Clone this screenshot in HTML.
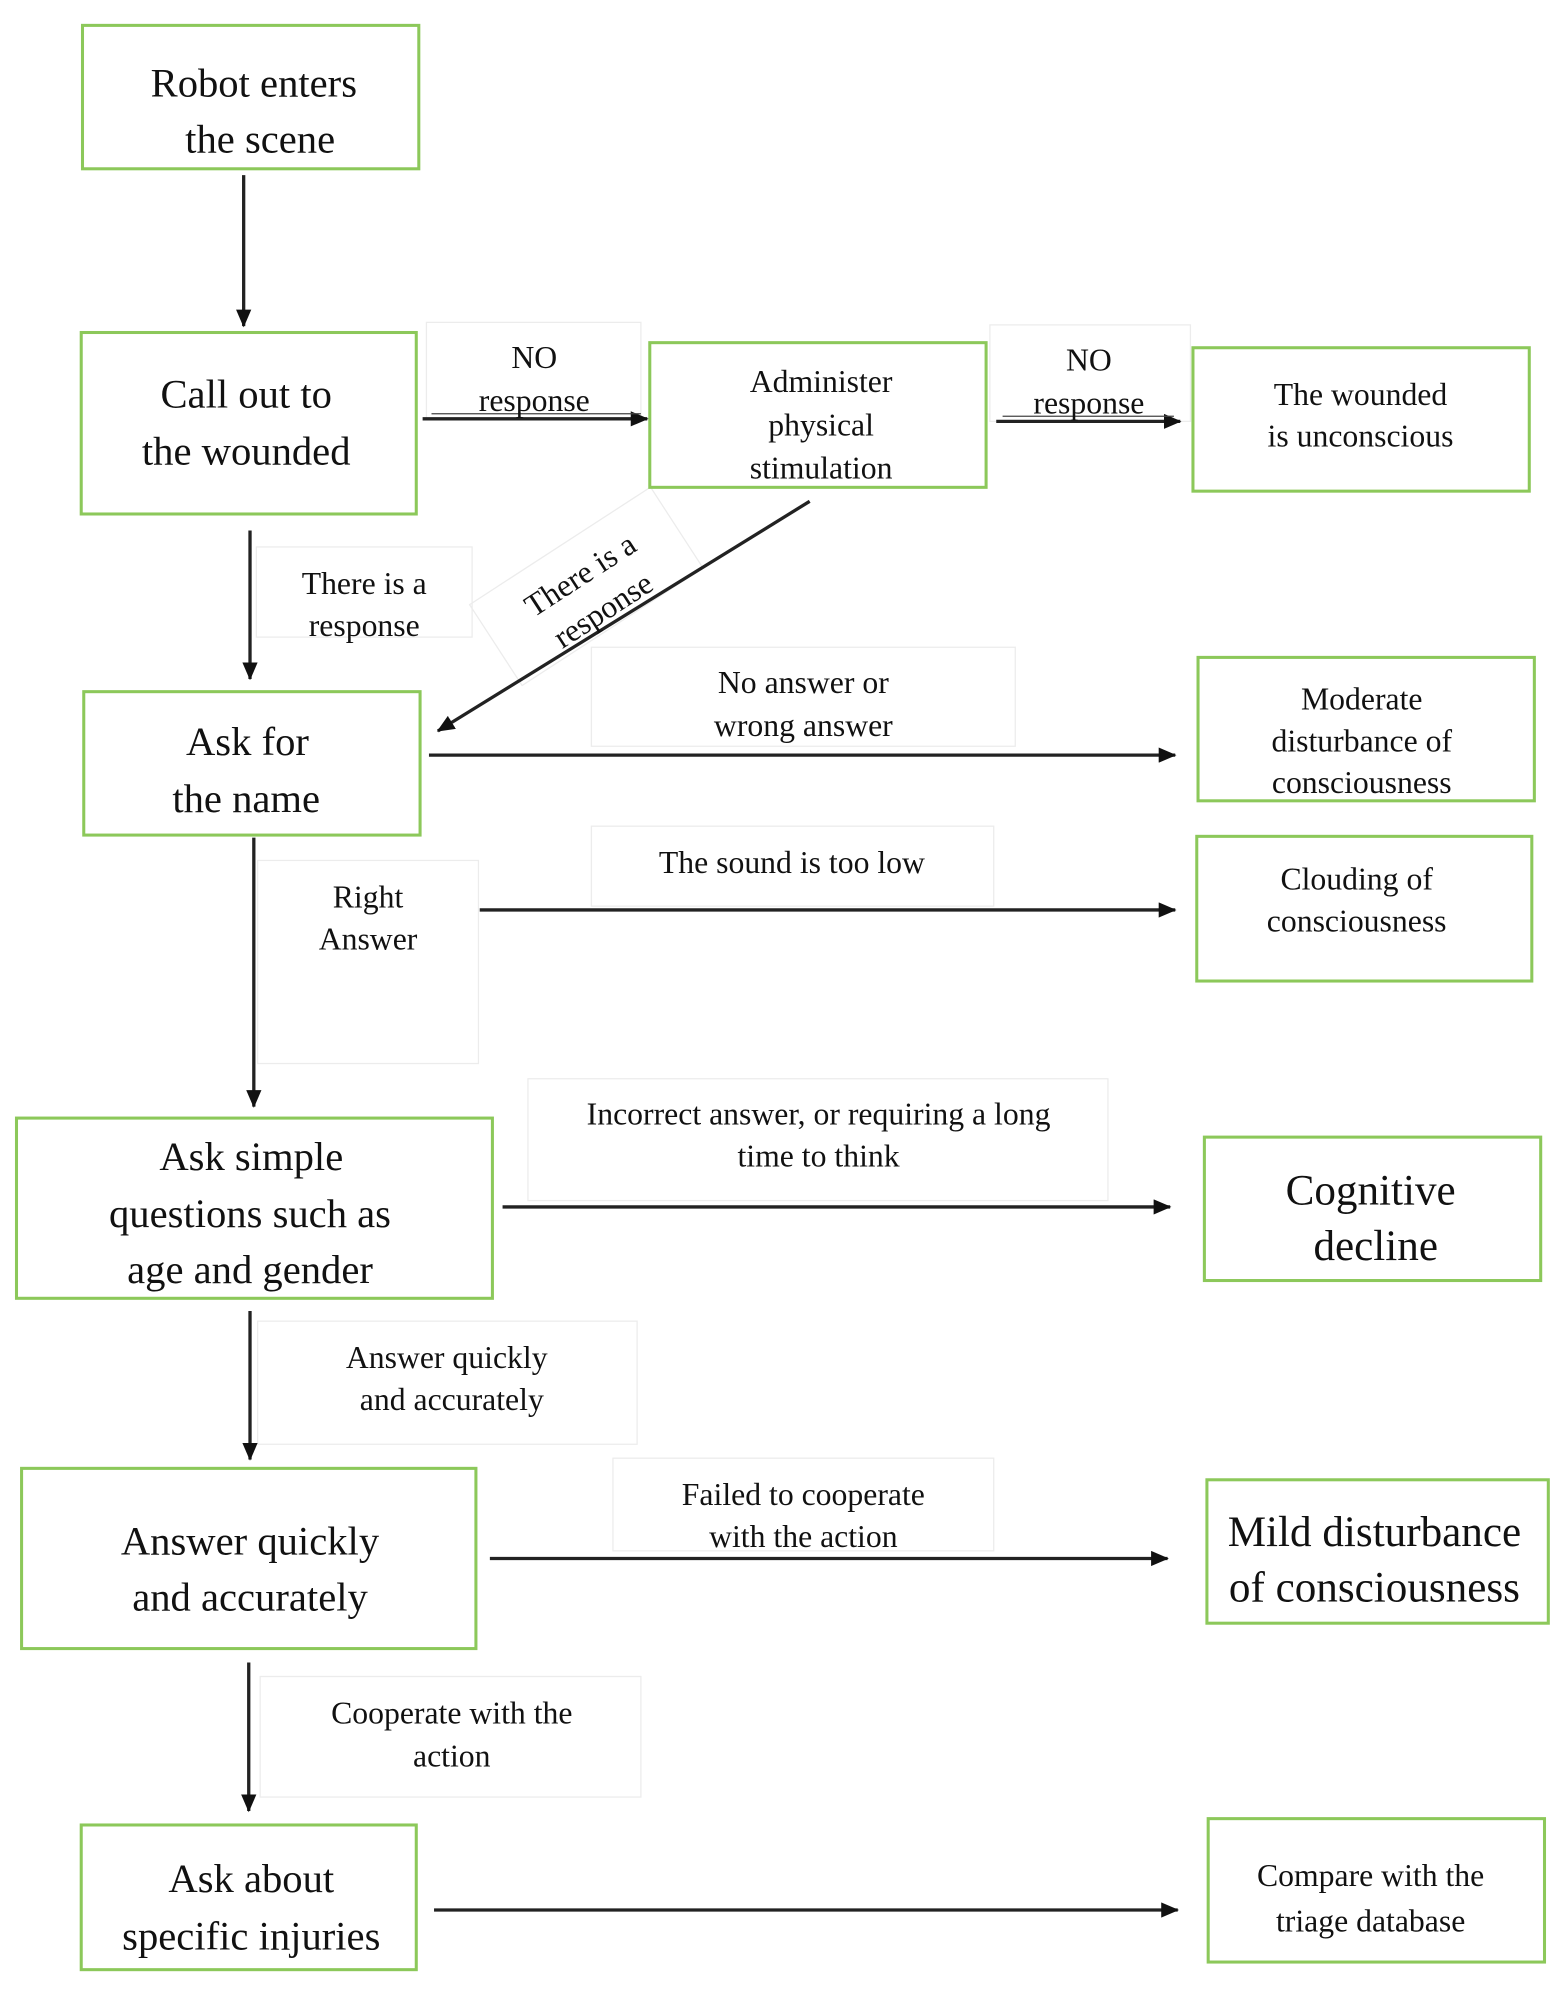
<!DOCTYPE html>
<html><head><meta charset="utf-8"><style>
html,body{margin:0;padding:0;background:#fff;}
svg{display:block;}
text{font-family:"Liberation Serif","Times New Roman","DejaVu Serif",serif;fill:#111;text-anchor:middle;}
.b{fill:#fff;stroke:#8cc85a;stroke-width:2.4;}
.l{fill:none;stroke:#ececec;stroke-width:1;}
.a{stroke:#222;stroke-width:2.6;fill:none;}
</style></head><body>
<svg width="1561" height="1992" viewBox="0 0 1230 1569.6" preserveAspectRatio="none" xmlns="http://www.w3.org/2000/svg" font-family="Liberation Serif, Times New Roman, serif">
<defs><marker id="m" markerWidth="14" markerHeight="12" refX="13" refY="6" orient="auto" markerUnits="userSpaceOnUse"><path d="M0,0 L14,6 L0,12 z" fill="#111"/></marker></defs>

<rect class="l" x="336" y="254" width="169" height="76"/>
<rect class="l" x="780" y="256" width="158" height="76"/>
<rect class="l" x="202" y="431" width="170" height="71"/>
<rect class="l" x="466" y="510" width="334" height="78"/>
<rect class="l" x="203" y="678" width="174" height="160"/>
<rect class="l" x="466" y="651" width="317" height="63"/>
<rect class="l" x="416" y="850" width="457" height="96"/>
<rect class="l" x="203" y="1041" width="299" height="97"/>
<rect class="l" x="483" y="1149" width="300" height="73"/>
<rect class="l" x="205" y="1321" width="300" height="95"/>
<g transform="translate(462,462) rotate(-33)"><rect class="l" x="-85" y="-38" width="170" height="76"/></g>

<rect class="b" x="65" y="20" width="265" height="113"/>
<rect class="b" x="64" y="262" width="264" height="143"/>
<rect class="b" x="512" y="270" width="265" height="114"/>
<rect class="b" x="940" y="274" width="265" height="113"/>
<rect class="b" x="66" y="545" width="265" height="113"/>
<rect class="b" x="944" y="518" width="265" height="113"/>
<rect class="b" x="943" y="659" width="264" height="114"/>
<rect class="b" x="13" y="881" width="375" height="142"/>
<rect class="b" x="949" y="896" width="265" height="113"/>
<rect class="b" x="17" y="1157" width="358" height="142"/>
<rect class="b" x="951" y="1166" width="269" height="113"/>
<rect class="b" x="64" y="1438" width="264" height="114"/>
<rect class="b" x="952" y="1433" width="265" height="113"/>

<line class="a" x1="192" y1="138" x2="192" y2="257" marker-end="url(#m)"/>
<line class="a" x1="333" y1="330" x2="510" y2="330" marker-end="url(#m)"/>
<line x1="340" y1="326" x2="505" y2="326" stroke="#444" stroke-width="1"/>
<line class="a" x1="785" y1="332" x2="930" y2="332" marker-end="url(#m)"/>
<line x1="790" y1="328" x2="925" y2="328" stroke="#444" stroke-width="1"/>
<line class="a" x1="197" y1="418" x2="197" y2="535" marker-end="url(#m)"/>
<line class="a" x1="638" y1="395" x2="345" y2="576" marker-end="url(#m)"/>
<line class="a" x1="338" y1="595" x2="926" y2="595" marker-end="url(#m)"/>
<line class="a" x1="200" y1="660" x2="200" y2="872" marker-end="url(#m)"/>
<line class="a" x1="378" y1="717" x2="926" y2="717" marker-end="url(#m)"/>
<line class="a" x1="396" y1="951" x2="922" y2="951" marker-end="url(#m)"/>
<line class="a" x1="197" y1="1033" x2="197" y2="1150" marker-end="url(#m)"/>
<line class="a" x1="386" y1="1228" x2="920" y2="1228" marker-end="url(#m)"/>
<line class="a" x1="196" y1="1310" x2="196" y2="1427" marker-end="url(#m)"/>
<line class="a" x1="342" y1="1505" x2="928" y2="1505" marker-end="url(#m)"/>

<g font-size="32">
<text x="200" y="76">Robot enters</text><text x="205" y="120">the scene</text>
<text x="194" y="321">Call out to</text><text x="194" y="366">the wounded</text>
<text x="195" y="595">Ask for</text><text x="194" y="640">the name</text>
<text x="198" y="922">Ask simple</text><text x="197" y="967">questions such as</text><text x="197" y="1011">age and gender</text>
<text x="197" y="1225">Answer quickly</text><text x="197" y="1269">and accurately</text>
<text x="198" y="1491">Ask about</text><text x="198" y="1536">specific injuries</text>
</g>
<g font-size="34">
<text x="1080" y="949">Cognitive</text><text x="1084" y="993">decline</text>
<text x="1083" y="1218">Mild disturbance</text><text x="1083" y="1262">of consciousness</text>
</g>
<g font-size="25">
<text x="647" y="309">Administer</text><text x="647" y="343">physical</text><text x="647" y="377">stimulation</text>
<text x="1072" y="319">The wounded</text><text x="1072" y="352">is unconscious</text>
<text x="1073" y="559">Moderate</text><text x="1073" y="592">disturbance of</text><text x="1073" y="625">consciousness</text>
<text x="1069" y="701">Clouding of</text><text x="1069" y="734">consciousness</text>
<text x="1080" y="1486">Compare with the</text><text x="1080" y="1522">triage database</text>
</g>
<g font-size="25">
<text x="421" y="290">NO</text><text x="421" y="324">response</text>
<text x="858" y="292">NO</text><text x="858" y="326">response</text>
<text x="287" y="468">There is a</text><text x="287" y="501">response</text>
<g transform="translate(465,465) rotate(-33)"><text x="0" y="-6">There is a</text><text x="0" y="27">response</text></g>
<text x="633" y="546">No answer or</text><text x="633" y="580">wrong answer</text>
<text x="290" y="715">Right</text><text x="290" y="748">Answer</text>
<text x="624" y="688">The sound is too low</text>
<text x="645" y="886">Incorrect answer, or requiring a long</text><text x="645" y="919">time to think</text>
<text x="352" y="1078">Answer quickly</text><text x="356" y="1111">and accurately</text>
<text x="633" y="1186">Failed to cooperate</text><text x="633" y="1219">with the action</text>
<text x="356" y="1358">Cooperate with the</text><text x="356" y="1392">action</text>
</g>
</svg>
</body></html>
